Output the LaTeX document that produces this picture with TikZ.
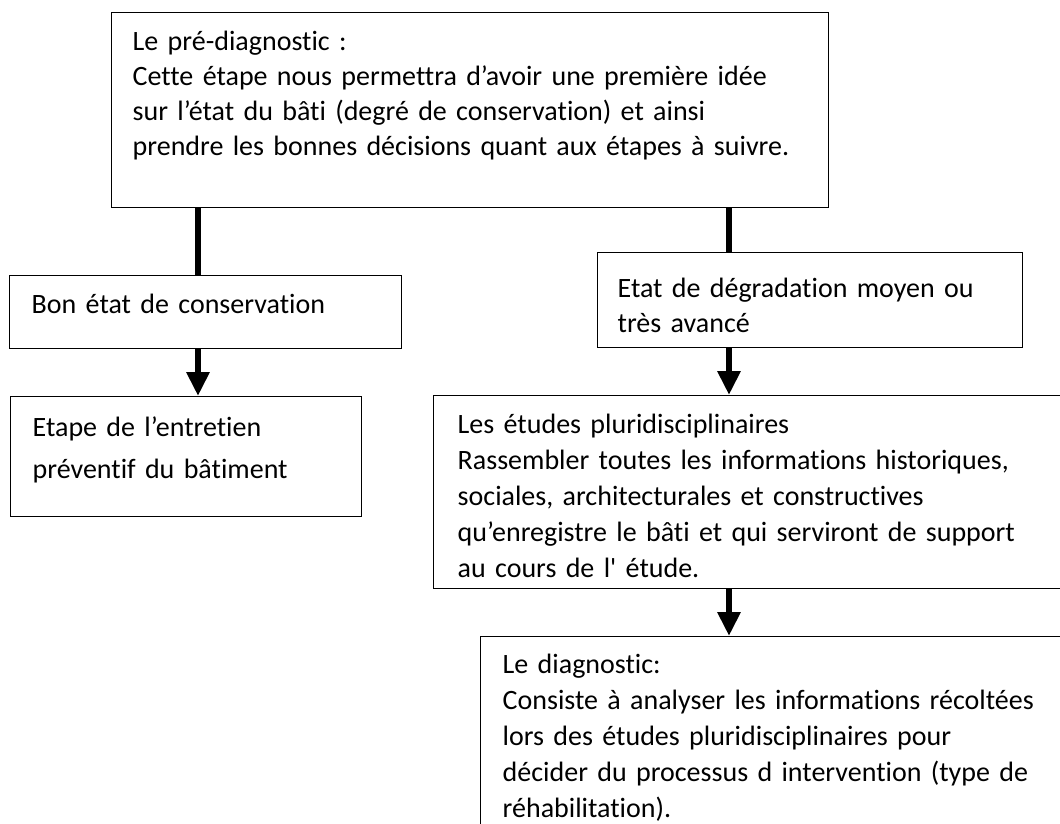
\documentclass[tikz,border=0pt]{standalone}
\usepackage{fontspec}
\setmainfont{Carlito}[Ligatures={NoCommon}]
\usetikzlibrary{arrows.meta,positioning}

\begin{document}
\begin{tikzpicture}[x=1pt,y=-1pt,
    link/.style={line width=6pt},
    flow/.style={link,-{Triangle[width=22pt,length=24pt]}}]
       \tikzstyle{every node}=[font=\fontsize{28}{35}\selectfont]
       \tikzstyle{box}=[draw,line width=1.4pt,anchor=north west,align=left,inner ysep=0pt]

       \fill[white] (0,0) rectangle (1060,823);
       \useasboundingbox (0,0) rectangle (1060,823);
       \clip (0,0) rectangle (1060,823);

       % les cadres
       \node[box,inner xsep=21pt,text width=675pt,text height=38pt,text depth=157pt] (pre_diag) at (111,12)
         {Le pré-diagnostic :\\
          Cette étape nous permettra d’avoir une première idée\\
          sur l’état du bâti (degré de conservation) et ainsi\\
          prendre les bonnes décisions quant aux étapes à suivre.};
       \node[box,inner xsep=22pt,text width=348pt,text height=38pt,text depth=35pt] (bon_etat) at (9,275)
         {Bon état de conservation};
       \node[box,inner xsep=22pt,text width=307pt,text height=40pt,text depth=80pt,
             font=\fontsize{28}{42}\selectfont] (entretien) at (10,396)
         {Etape de l’entretien\\
          préventif du bâtiment};
       \node[box,inner xsep=20pt,text width=385pt,text height=45pt,text depth=50pt] (degrad) at (597,252)
         {Etat de dégradation moyen ou\\
          très avancé};
       \node[box,inner xsep=24pt,text width=640pt,text height=38pt,text depth=155pt,
             font=\fontsize{28}{36}\selectfont] (etudes) at (433,395)
         {Les études pluridisciplinaires\\
          Rassembler toutes les informations historiques,\\
          sociales, architecturales et constructives\\
          qu’enregistre le bâti et qui serviront de support\\
          au cours de l\textquotesingle{} étude.};
       \node[box,inner xsep=22pt,text width=600pt,text height=37pt,text depth=200pt,
             font=\fontsize{28}{36}\selectfont] (diag) at (480,636)
         {Le diagnostic:\\
          Consiste à analyser les informations récoltées\\
          lors des études pluridisciplinaires pour\\
          décider du processus d intervention (type de\\
          réhabilitation).};

       \coordinate (lx) at (198,0);
       \coordinate (rx) at (729,0);

       % liaisons
       \draw[link] (pre_diag.south -| lx) -- (bon_etat.north -| lx);
       \draw[link] (pre_diag.south -| rx) -- (degrad.north -| rx);
       \draw[flow] (bon_etat.south -| lx) -- (entretien.north -| lx);
       \draw[flow] (degrad.south -| rx) -- (etudes.north -| rx);
       \draw[flow] (etudes.south -| rx) -- (diag.north -| rx);
\end{tikzpicture}
\end{document}
